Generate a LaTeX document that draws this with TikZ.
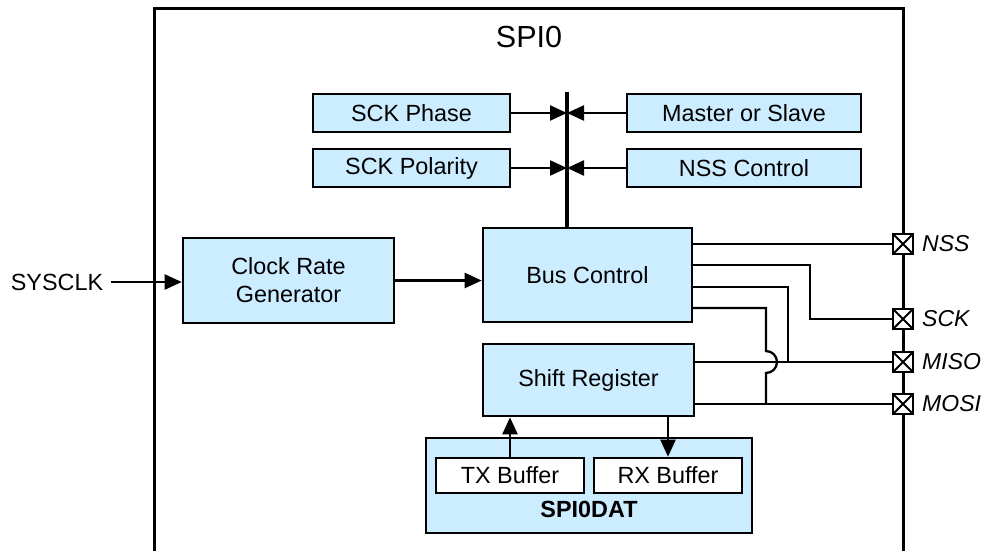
\documentclass[tikz,border=0pt]{standalone}
\usepackage{fontspec}
\setmainfont{Liberation Sans}
\usetikzlibrary{arrows.meta}
\definecolor{boxblue}{RGB}{204,236,255}
\tikzset{
  blk/.style={draw=black, fill=boxblue, line width=2.6pt, inner sep=0pt, align=center, font=\fontsize{23.4}{28}\selectfont},
  buf/.style={draw=black, fill=white, line width=2.6pt, inner sep=0pt, align=center, font=\fontsize{23.4}{28}\selectfont},
  wire/.style={line width=2.3pt},
  arr/.style={line width=2.3pt, -{Triangle[length=17pt,width=15pt]}},
  pin/.style={draw=black, fill=white, line width=2.6pt, minimum width=20pt, minimum height=20pt, inner sep=0pt, path picture={\draw[line width=2pt] (path picture bounding box.south west) -- (path picture bounding box.north east) (path picture bounding box.north west) -- (path picture bounding box.south east);}},
  pinlbl/.style={anchor=west, inner sep=0pt, font=\fontsize{23}{28}\selectfont\itshape},
  txt/.style={inner sep=0pt, font=\fontsize{23.4}{28}\selectfont}
}
\begin{document}
\begin{tikzpicture}[x=1pt,y=-1pt]
\useasboundingbox (0,0) rectangle (987,551);
% outer box
\draw[line width=3pt] (154,555) -- (154,9) -- (903,9) -- (903,555);
\node[txt, font=\fontsize{30.5}{34}\selectfont] (title) at (529,37) {SPI0};
% config blocks
\node[blk, minimum width=197pt, minimum height=38pt] (phase) at (411.5,113) {SCK Phase};
\node[blk, minimum width=197pt, minimum height=38pt] (pol) at (411.5,168) {SCK Polarity};
\node[blk, minimum width=234pt, minimum height=38pt] (ms) at (744,113) {Master or Slave};
\node[blk, minimum width=234pt, minimum height=38pt] (nssc) at (744,168) {NSS Control};
% main blocks
\node[blk, minimum width=211pt, minimum height=85pt] (crg) at (288.5,280.5) {Clock Rate\\Generator};
\node[blk, minimum width=209pt, minimum height=94pt] (bus) at (587.5,275) {Bus Control};
\node[blk, minimum width=211pt, minimum height=72pt] (sr) at (588.5,380) {Shift Register};
\node[blk, minimum width=326pt, minimum height=95pt] (dat) at (589,485.5) {};
\node[buf, minimum width=148pt, minimum height=35pt] (tx) at (510,475.5) {TX Buffer};
\node[buf, minimum width=148pt, minimum height=35pt] (rx) at (668,475.5) {RX Buffer};
\node[txt, font=\fontsize{23.4}{28}\selectfont\bfseries] (datlbl) at (589,509) {SPI0DAT};
% bus
\coordinate (bt) at (567,92);
\draw[line width=4.5pt] (bt) -- (bt |- bus.north);
\draw[arr] (phase.east) -- (bt |- phase.east);
\draw[arr] (pol.east) -- (bt |- pol.east);
\draw[arr] (ms.west) -- (bt |- ms.west);
\draw[arr] (nssc.west) -- (bt |- nssc.west);
% sysclk
\node[txt] (sysclk) at (57,282) {SYSCLK};
\draw[arr] (sysclk.east) ++(8pt,0) coordinate (sc) -- (sc -| crg.west);
\draw[arr] (crg.east) -- (crg.east -| bus.west);
% buffers
\draw[arr] (tx.north) -- (tx.north |- sr.south);
\draw[arr] (rx.north |- sr.south) -- (rx.north);
% pins
\node[pin] (pnss) at (903,244) {};
\node[pin] (psck) at (903,319) {};
\node[pin] (pmiso) at (903,362) {};
\node[pin] (pmosi) at (903,404) {};
\node[pinlbl] (lnss) at (922,244) {NSS};
\node[pinlbl] (lsck) at (922,319) {SCK};
\node[pinlbl] (lmiso) at (922,362) {MISO};
\node[pinlbl] (lmosi) at (922,404) {MOSI};
% wires
\draw[wire] (bus.east |- pnss.west) -- (pnss.west);
\draw[wire] (692,265) -- (810,265) -- (810,319) -- (psck.west);
\draw[wire] (694,362) -- (pmiso.west);
\draw[wire] (692,287) -- (788,287) -- (788,362);
\draw[wire] (694,404) -- (pmosi.west);
\draw[wire] (692,308) -- (766,308) -- (766,351) arc[start angle=90, end angle=-90, radius=11pt] -- (766,404);
\end{tikzpicture}
\end{document}
